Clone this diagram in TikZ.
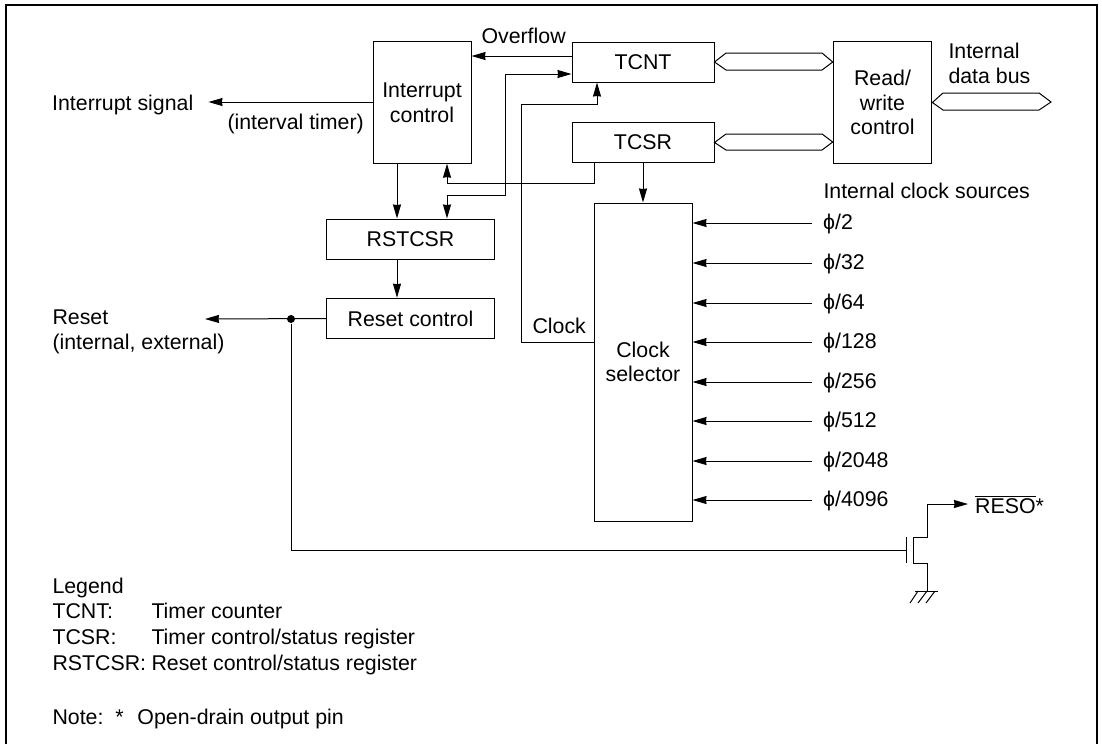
\documentclass[tikz,border=0pt]{standalone}
\usepackage{fontspec}
\setmainfont{Liberation Sans}
\usetikzlibrary{arrows.meta}

\begin{document}
\begin{tikzpicture}[x=0.75pt,y=-0.75pt,>={Stealth[length=10.5pt,width=6pt,inset=0.4pt]},line width=0.75pt,
  font=\fontsize{16}{18.5}\selectfont,
  blk/.style={draw,inner sep=0pt,align=center},
  lbl/.style={inner sep=0pt,anchor=base west,align=left},
  dotnode/.style={circle,fill=black,inner sep=0pt,minimum size=6pt}]
\useasboundingbox (0,0) rectangle (1102,744);
\draw[line width=1.6pt] (6,744) -- (6,5) -- (1097,5) -- (1097,744);
% blocks
\node[blk,minimum width=73.5pt,minimum height=91pt] (ictrl) at (422,102.5) {Interrupt\\control};
\node[blk,minimum width=106.5pt,minimum height=30pt] (tcnt) at (643,62) {TCNT};
\node[blk,minimum width=106.5pt,minimum height=30.5pt] (tcsr) at (643,142.5) {TCSR};
\node[blk,minimum width=74pt,minimum height=91pt] (rwctrl) at (882.5,102.5) {Read/\\write\\control};
\node[blk,minimum width=126pt,minimum height=30pt] (rstcsr) at (410.5,239) {RSTCSR};
\node[blk,minimum width=126pt,minimum height=30.5pt] (rstctrl) at (410.5,318.5) {Reset control};
\node[blk,minimum width=73.5pt,minimum height=238.5pt] (clksel) at (643,362) {Clock\\selector};
% labels
\node[lbl] (ovf) at (481,43) {Overflow};
\node[lbl,inner xsep=11pt] (intsig) at (37,110) {Interrupt signal};
\node[lbl] (ivt) at (227,129) {(interval timer)};
\node[lbl] (idb) at (948,83) {Internal\\data bus};
\node[lbl] (rstlbl) at (52,349) {Reset\\(internal, external)};
\node[lbl] (clklbl) at (532,333) {Clock};
\node[lbl] (srclbl) at (823,198) {Internal clock sources};
\node[lbl,inner xsep=5pt] (resopin) at (968,513) {$\overline{\mbox{RESO}}$*};
\coordinate (rstout) at (205,319);
\coordinate (busend) at (1051,102);
% connectors
\draw[->] (tcnt.west |- 0,56) -- (ictrl.east |- 0,56);
\draw[->] (ictrl.west |- 0,102) -- (intsig.east |- 0,102);
\draw[->] (ictrl.south -| 397,0) -- (rstcsr.north -| 397,0);
\draw[->] (rstcsr.south -| 397,0) -- (rstctrl.north -| 397,0);
\draw[->] (clksel.west |- 0,342) -- (521,342) -- (521,104) -- (597,104) -- (tcnt.south -| 597,0);
\draw[<->] (rstcsr.north -| 447,0) -- (447,195) -- (505,195) -- (505,74) -- (tcnt.west |- 0,74);
\draw[->] (tcsr.south -| 594,0) -- (594,183) -- (447,183) -- (ictrl.south -| 447,0);
\draw[->] (tcsr.south) -- (clksel.north);
\draw[->] (rstctrl.west) -- (rstout);
\node[dotnode] (rstdot) at (291,319) {};
% buses
\draw (tcnt.east) -- (726,53) -- (822,53) -- (rwctrl.west |- 0,62) -- (822,70) -- (726,70) -- cycle;
\draw (tcsr.east) -- (726,134) -- (822,134) -- (rwctrl.west |- 0,142) -- (822,150) -- (726,150) -- cycle;
\draw (rwctrl.east) -- (943,93) -- (1039,93) -- (busend) -- (1039,110) -- (943,110) -- cycle;
% clock inputs
\foreach \clkname/\clkbase/\clky in {2/229/223,32/269/263,64/309/303,128/348/342,256/388/382,512/427/421,2048/467/461,4096/506/500}{
  \node[lbl,inner xsep=8pt] (clk\clkname) at (812,\clkbase) {ϕ/\clkname};
  \draw[->] (clk\clkname.west |- 0,\clky) -- (clksel.east |- 0,\clky);
}
% output transistor
\coordinate (gate) at (906,550);
\draw (rstdot) |- (gate);
\draw (906,537) -- (906,563);
\draw (913,537) -- (913,563);
\draw[->] (913,537) -- (927,537) -- (927,504) -- (resopin.west |- 0,504);
\draw (913,563) -- (927,563) -- (927,591);
\draw (915,591) -- (938,591);
\draw (918,591) -- (910,603) (927,591) -- (918,603) (935,591) -- (926,603);
% legend
\node[lbl] (lgd) at (52,593) {Legend};
\node[lbl] (lgdcnt) at (52,618) {TCNT:};
\node[lbl] (txtcnt) at (151,618) {Timer counter};
\node[lbl] (lgdcsr) at (52,644) {TCSR:};
\node[lbl] (txtcsr) at (151,644) {Timer control/status register};
\node[lbl] (lgdrst) at (52,670) {RSTCSR:};
\node[lbl] (txtrst) at (151,670) {Reset control/status register};
\node[lbl] (note) at (52,724) {Note:\ \ *\ \ \hspace{1.5pt}Open-drain output pin};
\end{tikzpicture}
\end{document}
